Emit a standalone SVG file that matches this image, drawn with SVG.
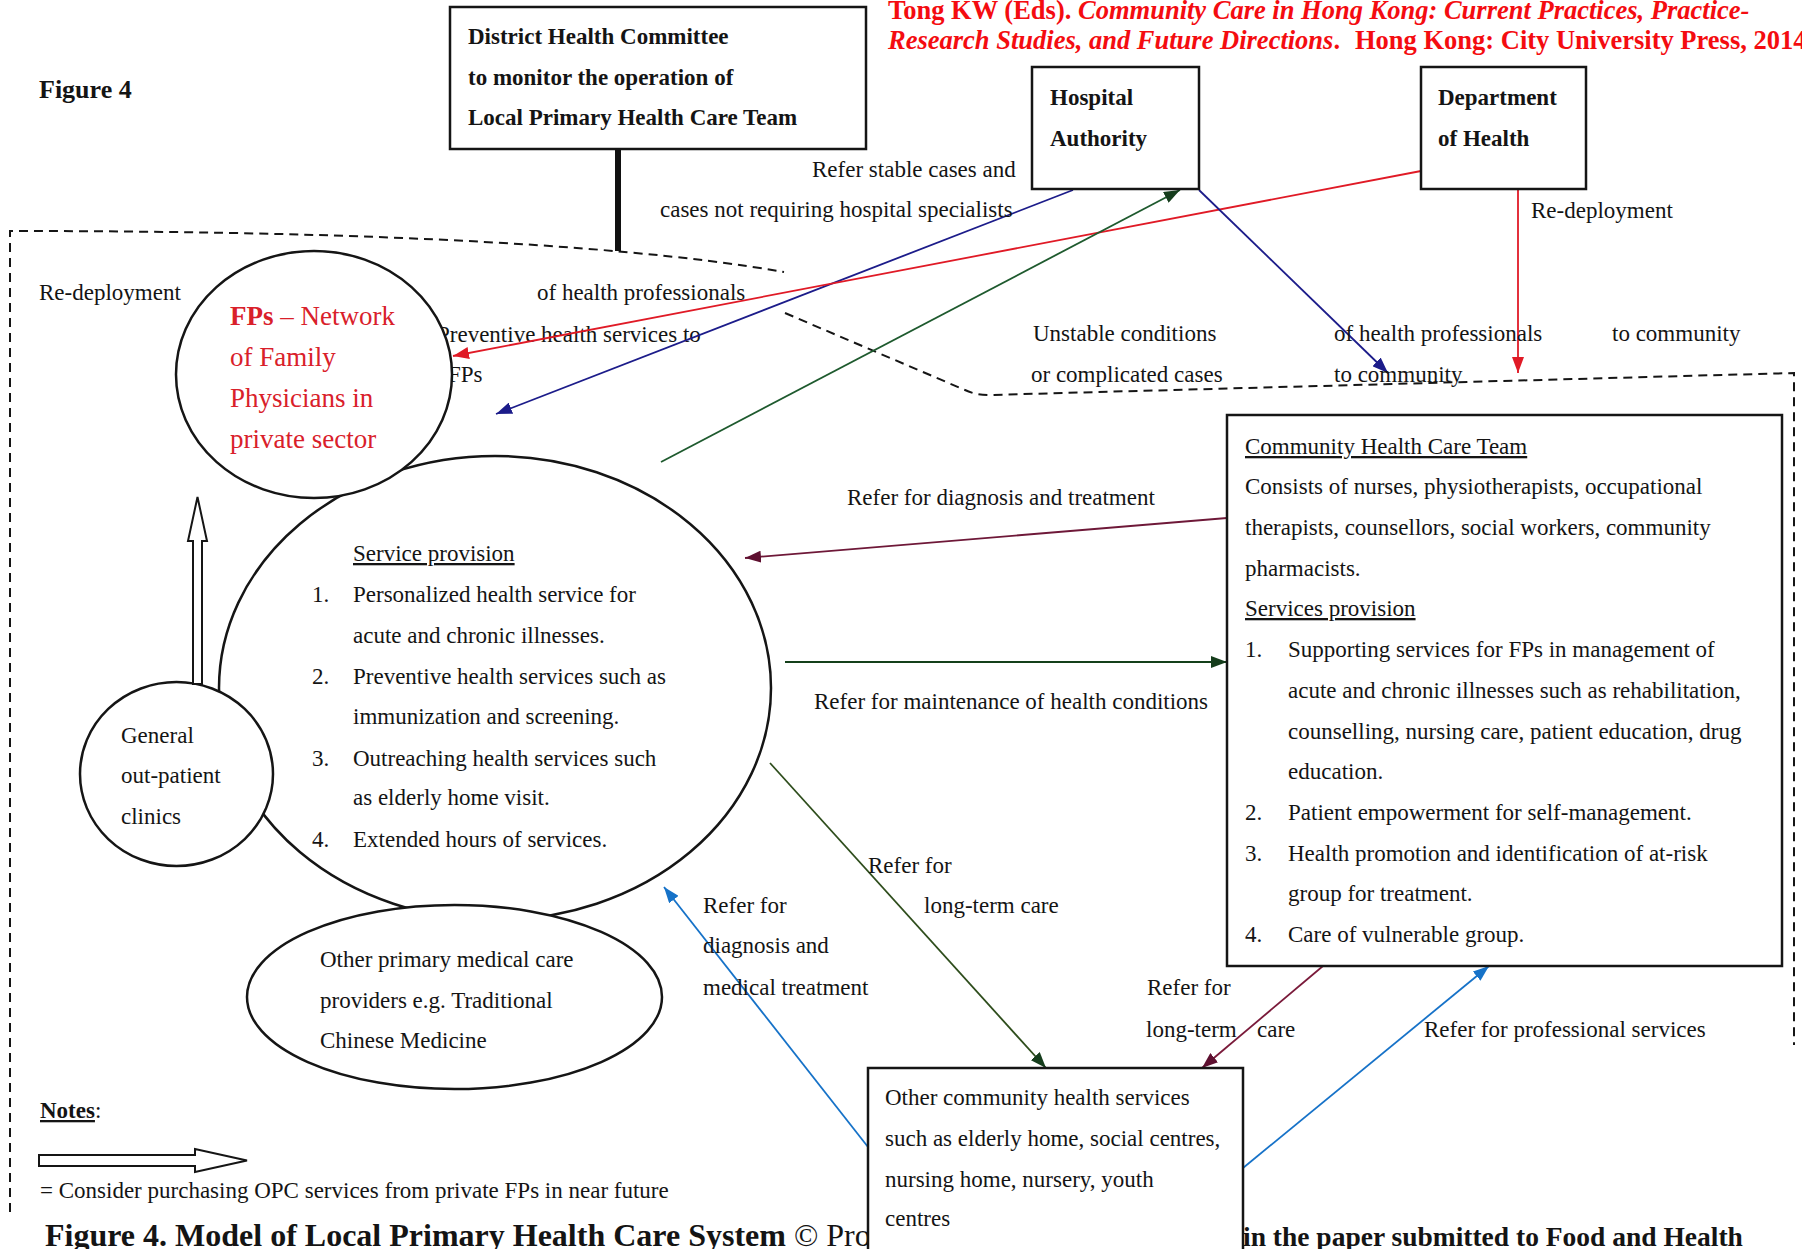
<svg xmlns="http://www.w3.org/2000/svg" width="1802" height="1249" viewBox="0 0 1802 1249">
<style>
text{font-family:"Liberation Serif","Times New Roman",serif;font-size:23px;fill:#141414}
.b{font-weight:bold}
.u{text-decoration:underline}
.fp{fill:#d9202a;font-size:27px}
.cite{fill:#f40c10;font-size:26.5px;font-weight:bold}
.it{font-style:italic}
.shape{fill:#fff;stroke:#151515;stroke-width:2.5}
.dash{fill:none;stroke:#151515;stroke-width:2;stroke-dasharray:9 6}
.hollow{fill:#fff;stroke:#151515;stroke-width:2}
.c{fill:none;stroke-width:1.8}
</style>
<defs>
<marker id="mNavy" markerUnits="userSpaceOnUse" markerWidth="16" markerHeight="12" refX="16" refY="6" orient="auto"><path d="M0,0 L16,6 L0,12 z" fill="#1c1c8a"/></marker>
<marker id="mRed" markerUnits="userSpaceOnUse" markerWidth="16" markerHeight="12" refX="16" refY="6" orient="auto"><path d="M0,0 L16,6 L0,12 z" fill="#e01a26"/></marker>
<marker id="mGreen" markerUnits="userSpaceOnUse" markerWidth="16" markerHeight="12" refX="16" refY="6" orient="auto"><path d="M0,0 L16,6 L0,12 z" fill="#153d1c"/></marker>
<marker id="mMaroon" markerUnits="userSpaceOnUse" markerWidth="16" markerHeight="12" refX="16" refY="6" orient="auto"><path d="M0,0 L16,6 L0,12 z" fill="#5e1030"/></marker>
<marker id="mBlue" markerUnits="userSpaceOnUse" markerWidth="16" markerHeight="12" refX="16" refY="6" orient="auto"><path d="M0,0 L16,6 L0,12 z" fill="#1672c8"/></marker>
</defs>
<rect x="0" y="0" width="1802" height="1249" fill="#fff"/>

<g id="boundary">
<path class="dash" d="M10,1212 L10,231 C300,231 600,240 784,272"/>
<path class="dash" d="M785,313 L965,390 Q975,395 990,395 L1794,373 L1794,1045"/>
</g>

<g id="title"><text class="b" x="39" y="98" style="font-size:26px">Figure 4</text></g>

<g id="citation">
<text class="cite" x="888" y="19">Tong KW (Eds). <tspan class="it">Community Care in Hong Kong: Current Practices, Practice-</tspan></text>
<text class="cite" x="888" y="49"><tspan class="it">Research Studies, and Future Directions</tspan>.<tspan x="1355">Hong Kong: City University Press, 2014</tspan></text>
</g>

<g id="caption">
<text x="45" y="1246" style="font-size:32px"><tspan class="b">Figure 4. Model of Local Primary Health Care System</tspan> © Pro</text>
<text class="b" x="1243" y="1246" style="font-size:27.5px">in the paper submitted to Food and Health</text>
</g>

<g id="hidden-labels">
<text x="437" y="342">Preventive health services to</text>
<text x="448" y="382">FPs</text>
</g>

<g id="service-provision">
<ellipse class="shape" cx="495" cy="688" rx="276" ry="232"/>
<text class="u" x="353" y="561">Service provision</text>
<text x="312" y="602">1.</text><text x="353" y="602">Personalized health service for</text>
<text x="353" y="643">acute and chronic illnesses.</text>
<text x="312" y="684">2.</text><text x="353" y="684">Preventive health services such as</text>
<text x="353" y="724">immunization and screening.</text>
<text x="312" y="766">3.</text><text x="353" y="766">Outreaching health services such</text>
<text x="353" y="805">as elderly home visit.</text>
<text x="312" y="847">4.</text><text x="353" y="847">Extended hours of services.</text>
</g>

<g id="fps">
<ellipse class="shape" cx="314" cy="374.5" rx="138" ry="123.5"/>
<text class="fp" x="230" y="325"><tspan class="b">FPs</tspan> – Network</text>
<text class="fp" x="230" y="366">of Family</text>
<text class="fp" x="230" y="407">Physicians in</text>
<text class="fp" x="230" y="448">private sector</text>
</g>

<g id="gopc">
<ellipse class="shape" cx="176.5" cy="774" rx="96.5" ry="92"/>
<text x="121" y="743">General</text>
<text x="121" y="783">out-patient</text>
<text x="121" y="824">clinics</text>
</g>

<g id="other-primary">
<ellipse class="shape" cx="454.5" cy="997" rx="207.5" ry="92"/>
<text x="320" y="967">Other primary medical care</text>
<text x="320" y="1008">providers e.g. Traditional</text>
<text x="320" y="1048">Chinese Medicine</text>
</g>

<g id="connectors">
<line x1="618" y1="149" x2="618" y2="251" stroke="#111" stroke-width="6"/>
<polygon class="hollow" points="193,684 193,541 188,541 197.5,497 207,541 202,541 202,684"/>
<line class="c" x1="1073" y1="190" x2="496" y2="414" stroke="#1c1c8a" marker-end="url(#mNavy)"/>
<line class="c" x1="1421" y1="171" x2="453" y2="356" stroke="#e01a26" stroke-width="2.2" marker-end="url(#mRed)"/>
<line class="c" x1="661" y1="462" x2="1180" y2="190" stroke="#1e5a2e" marker-end="url(#mGreen)"/>
<line class="c" x1="1199" y1="190" x2="1388" y2="373" stroke="#1c1c8a" marker-end="url(#mNavy)"/>
<line class="c" x1="1518" y1="189" x2="1518" y2="373" stroke="#e01a26" marker-end="url(#mRed)"/>
<line class="c" x1="1227" y1="518" x2="745" y2="558" stroke="#6e1838" stroke-width="2" marker-end="url(#mMaroon)"/>
<line class="c" x1="785" y1="662" x2="1227" y2="662" stroke="#14401a" stroke-width="3" marker-end="url(#mGreen)"/>
<line class="c" x1="770" y1="763" x2="1046" y2="1068" stroke="#2e4d1c" marker-end="url(#mGreen)"/>
<line class="c" x1="1323" y1="966" x2="1202" y2="1068" stroke="#7a1a3a" marker-end="url(#mMaroon)"/>
<line class="c" x1="868" y1="1147" x2="664" y2="887" stroke="#1672c8" stroke-width="2.2" marker-end="url(#mBlue)"/>
<line class="c" x1="1243" y1="1168" x2="1489" y2="966" stroke="#1672c8" stroke-width="2.6" marker-end="url(#mBlue)"/>
</g>

<g id="dhc">
<rect class="shape" x="450" y="7" width="416" height="142"/>
<text class="b" x="468" y="44">District Health Committee</text>
<text class="b" x="468" y="85">to monitor the operation of</text>
<text class="b" x="468" y="125">Local Primary Health Care Team</text>
</g>

<g id="hospital-authority">
<rect class="shape" x="1032" y="67" width="167" height="122"/>
<text class="b" x="1050" y="105">Hospital</text>
<text class="b" x="1050" y="146">Authority</text>
</g>

<g id="department-of-health">
<rect class="shape" x="1421" y="67" width="165" height="122"/>
<text class="b" x="1438" y="105">Department</text>
<text class="b" x="1438" y="146">of Health</text>
</g>

<g id="community-team">
<rect class="shape" x="1227" y="415" width="555" height="551"/>
<text class="u" x="1245" y="454">Community Health Care Team</text>
<text x="1245" y="494">Consists of nurses, physiotherapists, occupational</text>
<text x="1245" y="535">therapists, counsellors, social workers, community</text>
<text x="1245" y="576">pharmacists.</text>
<text class="u" x="1245" y="616">Services provision</text>
<text x="1245" y="657">1.</text><text x="1288" y="657">Supporting services for FPs in management of</text>
<text x="1288" y="698">acute and chronic illnesses such as rehabilitation,</text>
<text x="1288" y="739">counselling, nursing care, patient education, drug</text>
<text x="1288" y="779">education.</text>
<text x="1245" y="820">2.</text><text x="1288" y="820">Patient empowerment for self-management.</text>
<text x="1245" y="861">3.</text><text x="1288" y="861">Health promotion and identification of at-risk</text>
<text x="1288" y="901">group for treatment.</text>
<text x="1245" y="942">4.</text><text x="1288" y="942">Care of vulnerable group.</text>
</g>

<g id="other-community">
<rect class="shape" x="868" y="1068" width="375" height="200"/>
<text x="885" y="1105">Other community health services</text>
<text x="885" y="1146">such as elderly home, social centres,</text>
<text x="885" y="1187">nursing home, nursery, youth</text>
<text x="885" y="1226">centres</text>
</g>

<g id="labels">
<text x="812" y="177">Refer stable cases and</text>
<text x="660" y="217">cases not requiring hospital specialists</text>
<text x="39" y="300">Re-deployment</text>
<text x="537" y="300">of health professionals</text>
<text x="1531" y="218">Re-deployment</text>
<text x="1033" y="341">Unstable conditions</text>
<text x="1031" y="382">or complicated cases</text>
<text x="1334" y="341">of health professionals</text>
<text x="1612" y="341">to community</text>
<text x="1334" y="382">to community</text>
<text x="847" y="505">Refer for diagnosis and treatment</text>
<text x="814" y="709">Refer for maintenance of health conditions</text>
<text x="868" y="873">Refer for</text>
<text x="924" y="913">long-term care</text>
<text x="703" y="913">Refer for</text>
<text x="703" y="953">diagnosis and</text>
<text x="703" y="995">medical treatment</text>
<text x="1147" y="995">Refer for</text>
<text x="1146" y="1037">long-term</text>
<text x="1257" y="1037">care</text>
<text x="1424" y="1037">Refer for professional services</text>
</g>

<g id="notes">
<text x="40" y="1118"><tspan class="b u">Notes</tspan>:</text>
<polygon class="hollow" points="39,1155 195,1155 195,1149 247,1160.5 195,1172 195,1166 39,1166"/>
<text x="40" y="1198">= Consider purchasing OPC services from private FPs in near future</text>
</g>
</svg>
